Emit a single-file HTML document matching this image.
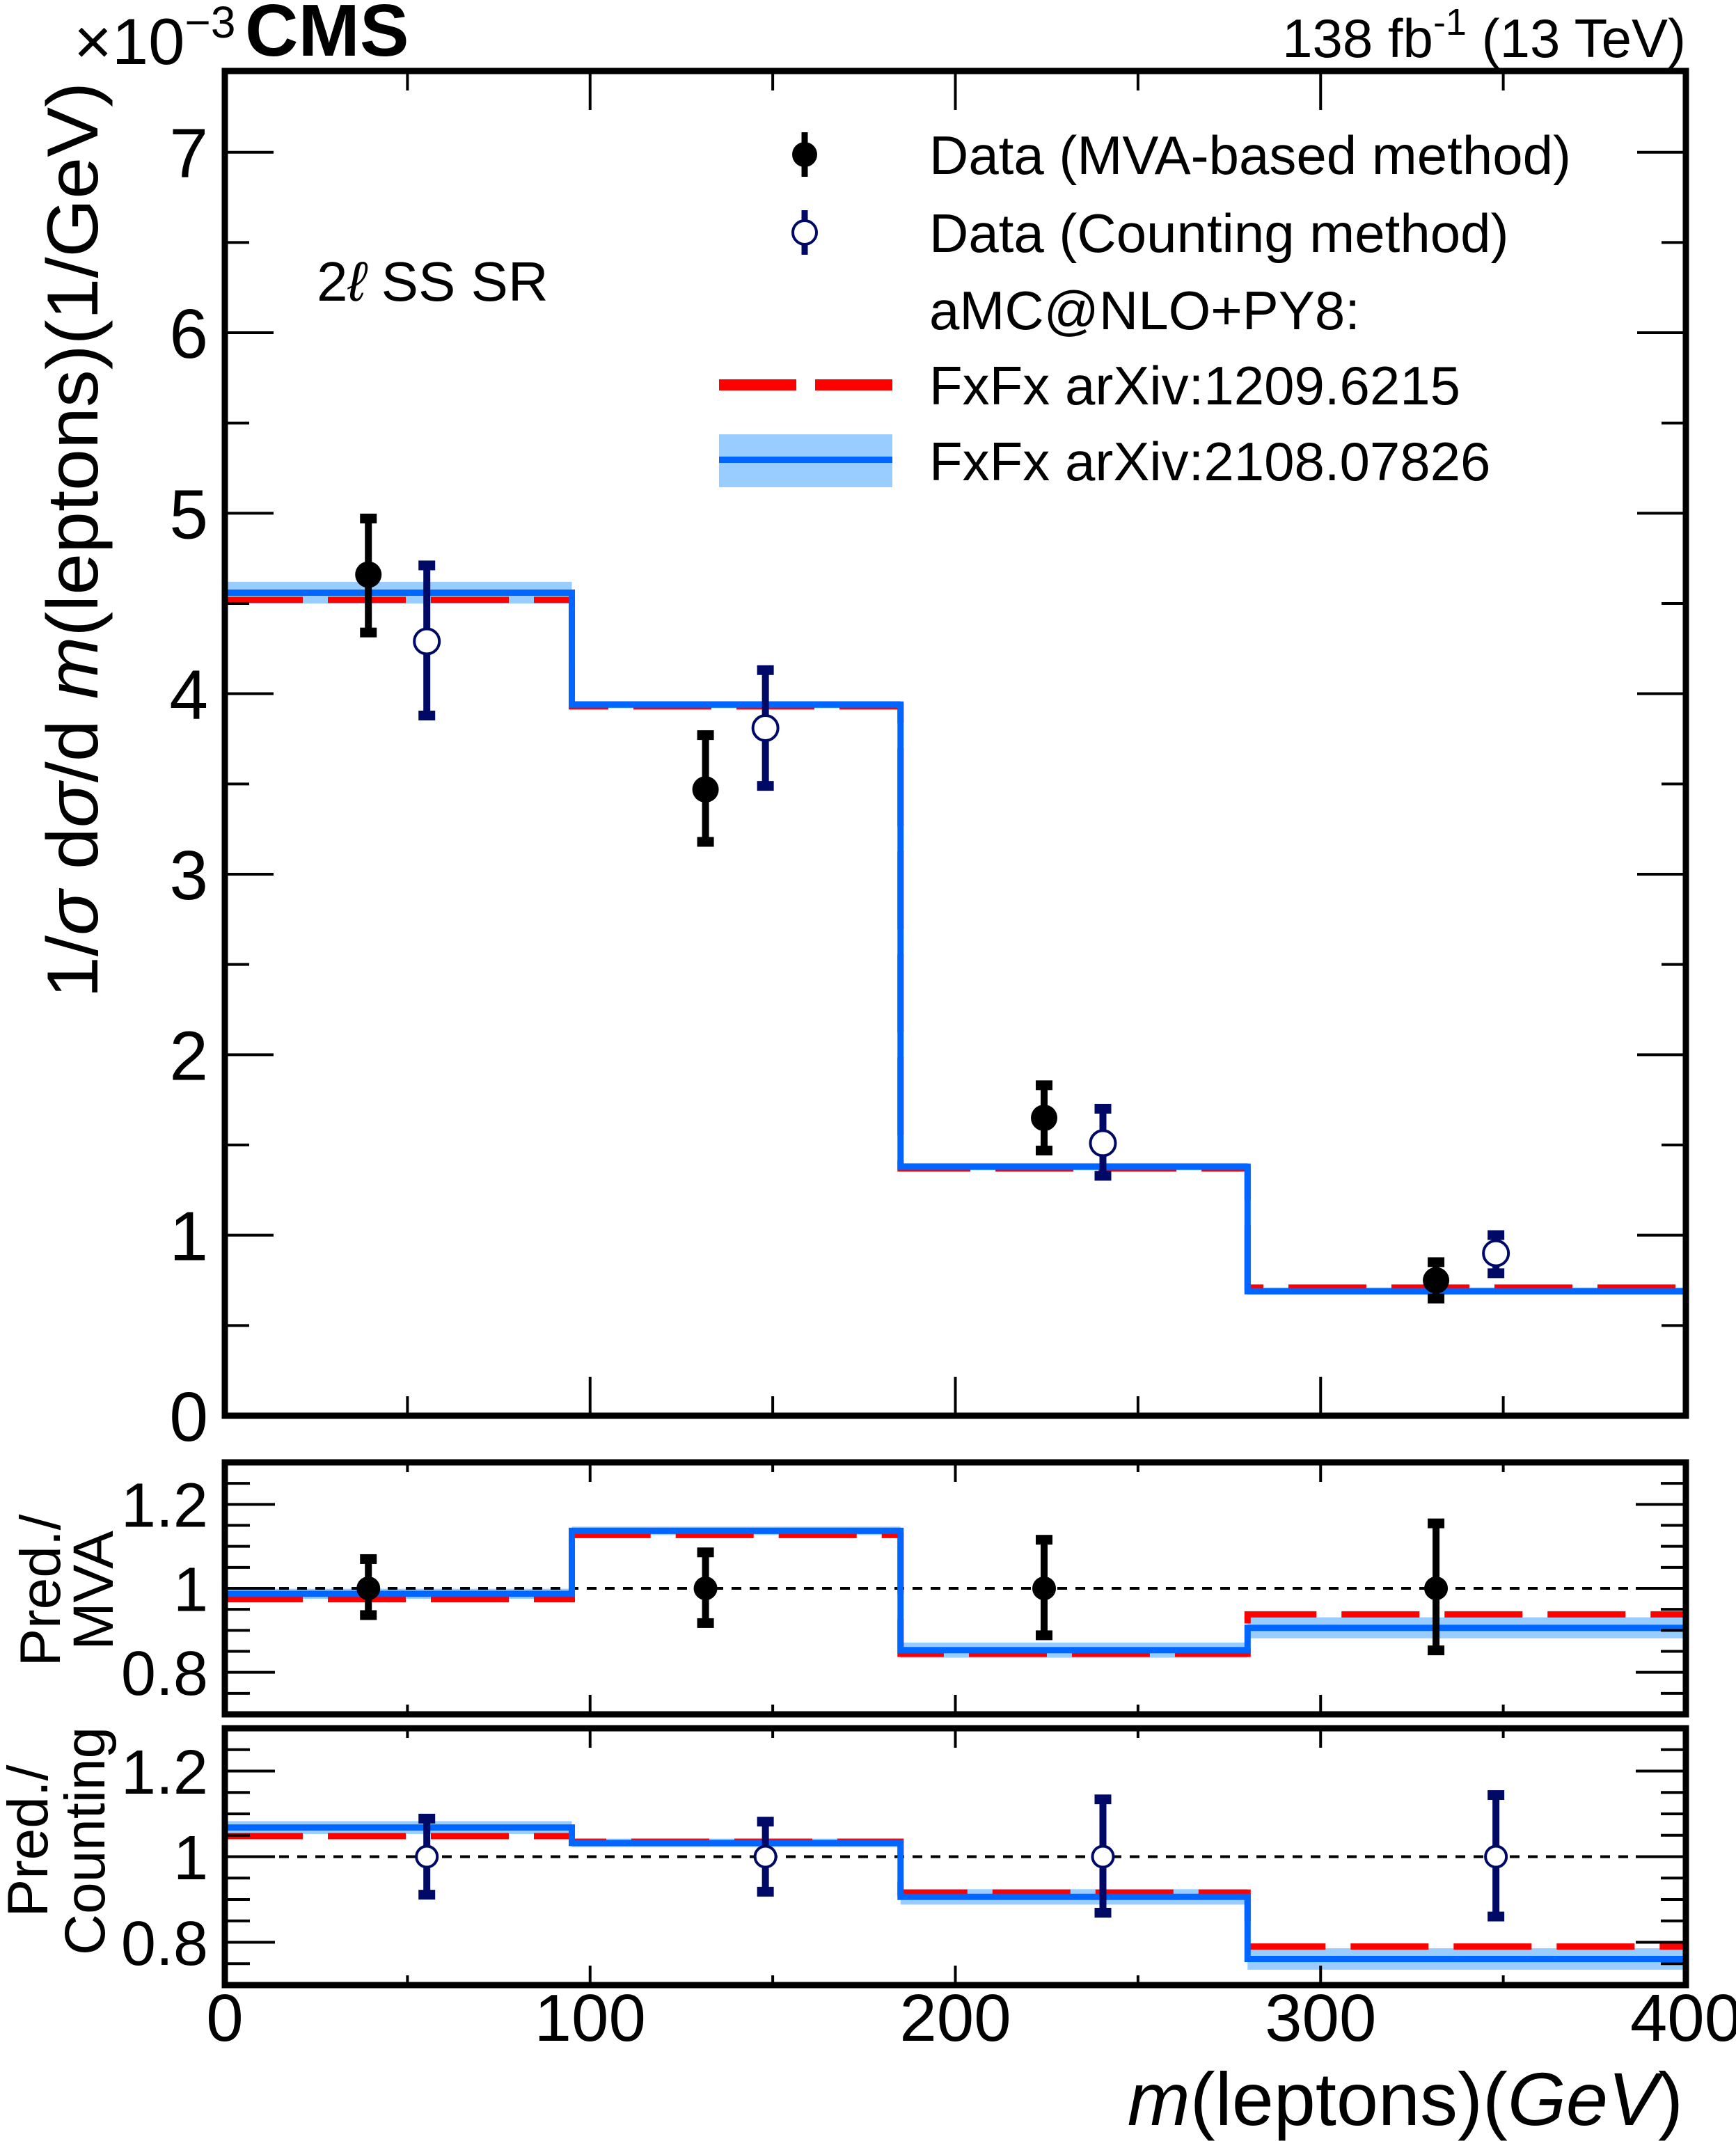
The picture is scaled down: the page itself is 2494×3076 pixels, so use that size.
<!DOCTYPE html>
<html><head><meta charset="utf-8">
<style>
html,body{margin:0;padding:0;background:#fff;}
svg{display:block;font-family:"Liberation Sans",sans-serif;}
</style></head>
<body>
<svg id="chart" width="2494" height="3076" viewBox="0 0 2494 3076" xmlns="http://www.w3.org/2000/svg">
<rect x="0" y="0" width="2494" height="3076" fill="#fff"/>
<g id="main"></g>
<g id="r1"></g>
<g id="r2"></g>
<g id="txt">
  <text x="106" y="92" font-size="94">×10<tspan dy="-38" font-size="64">−3</tspan></text>
  <text x="352" y="80" font-size="106" font-weight="bold">CMS</text>
  <text x="2422" y="82" font-size="78" text-anchor="end">138 fb<tspan dy="-32" font-size="54">-1</tspan><tspan dy="32"> (13 TeV)</tspan></text>
  <text x="455" y="432" font-size="80">2<tspan font-style="italic">ℓ</tspan> SS SR</text>
  <text transform="translate(140,1434) rotate(-90)" font-size="104" textLength="1316" lengthAdjust="spacingAndGlyphs">1/<tspan font-style="italic">σ</tspan> d<tspan font-style="italic">σ</tspan>/d <tspan font-style="italic">m</tspan>(leptons)(1/GeV)</text>
  <text transform="translate(86,2285) rotate(-90)" font-size="82" text-anchor="middle">Pred./</text>
  <text transform="translate(162,2285) rotate(-90)" font-size="82" text-anchor="middle">MVA</text>
  <text transform="translate(68,2645) rotate(-90)" font-size="82" text-anchor="middle">Pred./</text>
  <text transform="translate(150,2645) rotate(-90)" font-size="82" text-anchor="middle">Counting</text>
  <text x="2418" y="3053" font-size="108" text-anchor="end"><tspan font-style="italic">m</tspan>(leptons)(<tspan font-style="italic">GeV</tspan>)</text>
</g>
<g id="legend"></g>
</svg>
<script>
const NS="http://www.w3.org/2000/svg";
// ---- data ----
const binEdges=[0,95,185,280,400];
const mvaX=[39.3,131.6,224.3,331.6];
const mvaVal=[4.66,3.47,1.65,0.75];
const mvaUp=[4.99,3.79,1.85,0.87];
const mvaDn=[4.32,3.16,1.45,0.63];
const cntX=[55.3,148,240.4,348];
const cntVal=[4.29,3.81,1.51,0.90];
const cntUp=[4.73,4.15,1.72,1.02];
const cntDn=[3.86,3.47,1.31,0.77];
const predRed=[4.52,3.93,1.37,0.71];
const predBlue=[4.56,3.94,1.38,0.69];
const predBlueErr=[0.06,0.02,0.02,0.02];
const r1Red=[0.974,1.127,0.844,0.938];
const r1Blue=[0.987,1.137,0.853,0.906];
const r1BlueErr=[0.012,0.01,0.018,0.025];
const r1ErrUp=[1.078,1.094,1.124,1.163];
const r1ErrDn=[0.928,0.909,0.880,0.844];
const r2Red=[1.048,1.035,0.916,0.790];
const r2Blue=[1.068,1.032,0.906,0.761];
const r2BlueErr=[0.015,0.01,0.018,0.025];
const r2ErrUp=[1.097,1.090,1.142,1.152];
const r2ErrDn=[0.903,0.910,0.861,0.852];
const xTicks=[0,100,200,300,400];
const mainYTicks=[0,1,2,3,4,5,6,7];
const ratioYTicks=[0.8,1,1.2];

const X0=323,X1=2422;
const sx=v=>X0+(v-0)/(400-0)*(X1-X0);
function mk(tag,attrs,parent){const e=document.createElementNS(NS,tag);for(const k in attrs)e.setAttribute(k,attrs[k]);parent.appendChild(e);return e;}

function panel(g,y0,y1,ymin,ymax,opt){
  const sy=v=>y1-(v-ymin)/(ymax-ymin)*(y1-y0);
  const bands=opt.band;
  for(let i=0;i<4;i++){
    const r=mk('rect',{x:sx(binEdges[i]),y:sy(bands.v[i]+bands.e[i]),width:sx(binEdges[i+1])-sx(binEdges[i]),height:sy(bands.v[i]-bands.e[i])-sy(bands.v[i]+bands.e[i]),fill:'#99ccff'},g);
    
    
  }
  if(opt.unity){
    const l=mk('line',{x1:X0,x2:X1,y1:sy(1),y2:sy(1),stroke:'#000','stroke-width':4,'stroke-dasharray':'14 12'},g);
    
    
  }
  function step(vals,color,dash,name){
    let d='M'+sx(binEdges[0])+','+sy(vals[0]);
    for(let i=0;i<4;i++){d+=' L'+sx(binEdges[i+1])+','+sy(vals[i]);if(i<3)d+=' L'+sx(binEdges[i+1])+','+sy(vals[i+1]);}
    const p=mk('path',{d:d,fill:'none',stroke:color,'stroke-width':9},g);
    if(dash)p.setAttribute('stroke-dasharray',dash);
    
    
  }
  step(opt.red,'#ff0000','112 36','red-prediction-line');
  step(opt.blue,'#0066ff',null,'blue-prediction-line');
  opt.pts.forEach((P,pi)=>{
    for(let i=0;i<P.x.length;i++){
      const cx=sx(P.x[i]);
      const gp=mk('g',{},g);
      
      
      mk('line',{x1:cx,x2:cx,y1:sy(P.up[i]),y2:sy(P.dn[i]),stroke:P.col,'stroke-width':10},gp);
      mk('rect',{x:cx-12,y:sy(P.up[i])-2,width:24,height:14,fill:P.col},gp);
      mk('rect',{x:cx-12,y:sy(P.dn[i])-12,width:24,height:14,fill:P.col},gp);
      if(P.open) mk('circle',{cx:cx,cy:sy(P.v[i]),r:P.r,fill:'#fff',stroke:P.col,'stroke-width':4},gp);
      else mk('circle',{cx:cx,cy:sy(P.v[i]),r:P.r,fill:P.col},gp);
    }
  });
  const f=mk('rect',{x:X0,y:y0,width:X1-X0,height:y1-y0,fill:'none',stroke:'#000','stroke-width':9},g);
  
  
  for(let v=Math.ceil(ymin/opt.minorY)*opt.minorY; v<=ymax+1e-9; v+=opt.minorY){
    const vv=Math.round(v*1000)/1000;
    const major=opt.yTicks.some(t=>Math.abs(t-vv)<1e-6);
    const L=major?opt.majLen:opt.majLen/2;
    mk('line',{x1:X0,x2:X0+L,y1:sy(vv),y2:sy(vv),stroke:'#000','stroke-width':4},g);
    mk('line',{x1:X1,x2:X1-L,y1:sy(vv),y2:sy(vv),stroke:'#000','stroke-width':4},g);
  }
  opt.yTicks.forEach(t=>{
    const tx=mk('text',{x:X0-24,y:sy(t)+opt.fs*0.36,'font-size':opt.fs,'text-anchor':'end'},g);
    tx.textContent=String(t);
    
    
  });
  for(let v=0;v<=400;v+=50){
    const L=(v%100===0)?opt.xMaj:opt.xMaj/2;
    mk('line',{x1:sx(v),x2:sx(v),y1:y1,y2:y1-L,stroke:'#000','stroke-width':4},g);
    mk('line',{x1:sx(v),x2:sx(v),y1:y0,y2:y0+L,stroke:'#000','stroke-width':4},g);
  }
}

panel(document.getElementById('main'),102,2034,0,7.45,{
  band:{v:predBlue,e:predBlueErr},red:predRed,blue:predBlue,unity:false,
  pts:[{x:mvaX,v:mvaVal,up:mvaUp,dn:mvaDn,col:'#000',open:false,r:19,name:'mva'},
       {x:cntX,v:cntVal,up:cntUp,dn:cntDn,col:'#000a66',open:true,r:18,name:'counting'}],
  yTicks:mainYTicks,minorY:0.5,majLen:70,fs:100,xMaj:56});
panel(document.getElementById('r1'),2101,2463,0.7,1.3,{
  band:{v:r1Blue,e:r1BlueErr},red:r1Red,blue:r1Blue,unity:true,
  pts:[{x:mvaX,v:[1,1,1,1],up:r1ErrUp,dn:r1ErrDn,col:'#000',open:false,r:17,name:'mva-ratio'}],
  yTicks:ratioYTicks,minorY:0.05,majLen:72,fs:90,xMaj:28});
panel(document.getElementById('r2'),2483,2852,0.7,1.3,{
  band:{v:r2Blue,e:r2BlueErr},red:r2Red,blue:r2Blue,unity:true,
  pts:[{x:cntX,v:[1,1,1,1],up:r2ErrUp,dn:r2ErrDn,col:'#000a66',open:true,r:15,name:'counting-ratio'}],
  yTicks:ratioYTicks,minorY:0.05,majLen:72,fs:90,xMaj:28});

const svg=document.getElementById('chart');
xTicks.forEach(t=>{
  const tx=mk('text',{x:sx(t),y:2932,'font-size':96,'text-anchor':'middle'},svg);
  tx.textContent=String(t);
  
  
});

const lg=document.getElementById('legend');
const legRows=[222,334,445,553,662];
const legText=['Data (MVA-based method)','Data (Counting method)','aMC@NLO+PY8:','FxFx arXiv:1209.6215','FxFx arXiv:2108.07826'];
legText.forEach((s,i)=>{
  const t=mk('text',{x:1335,y:legRows[i]+28,'font-size':78},lg);
  t.textContent=s;
  
  
});
mk('line',{x1:1156,x2:1156,y1:190,y2:254,stroke:'#000','stroke-width':9},lg);
mk('circle',{cx:1156,cy:222,r:18,fill:'#000'},lg);
mk('line',{x1:1156,x2:1156,y1:302,y2:366,stroke:'#000a66','stroke-width':9},lg);
mk('circle',{cx:1156,cy:334,r:17,fill:'#fff',stroke:'#000a66','stroke-width':4},lg);
mk('rect',{x:1033,y:545,width:111,height:16,fill:'#ff0000'},lg);
mk('rect',{x:1171,y:545,width:111,height:16,fill:'#ff0000'},lg);
mk('rect',{x:1033,y:624,width:249,height:76,fill:'#99ccff'},lg);
mk('rect',{x:1033,y:656,width:249,height:9,fill:'#0066ff'},lg);
</script>
</body></html>
